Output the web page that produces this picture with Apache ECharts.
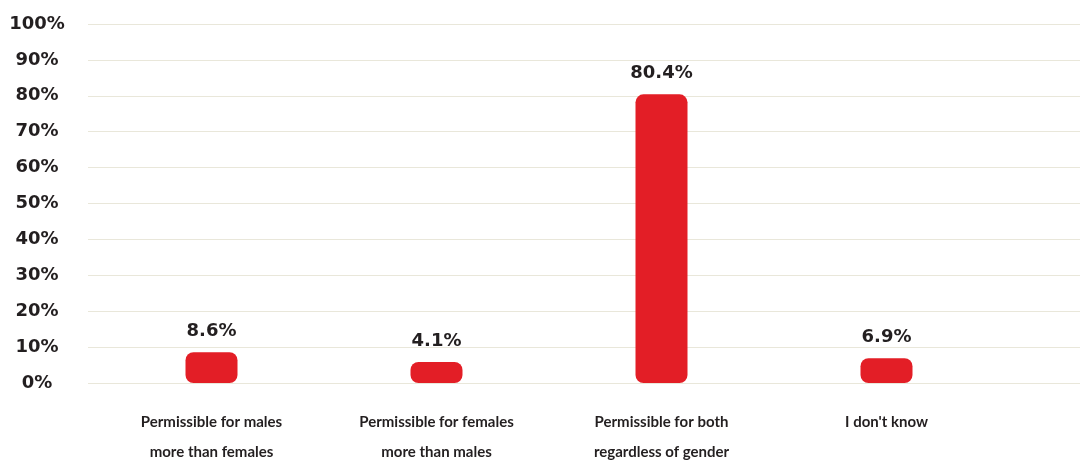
<!DOCTYPE html>
<html>
<head>
<meta charset="utf-8">
<script src="https://cdn.jsdelivr.net/npm/echarts@6/dist/echarts.min.js"></script>
<style>
  html, body { margin: 0; padding: 0; background: #fff; }
  #chart { width: 1083px; height: 461px; }
</style>
</head>
<body>
<div id="chart"></div>
<script>
var categories = [
    'Permissible for males\nmore than females',
    'Permissible for females\nmore than males',
    'Permissible for both\nregardless of gender',
    "I don't know"
];
var values = [8.6, 4.1, 80.4, 6.9];
var yMin = 0, yMax = 100, yStep = 10;

var textColor = '#231f20';
var barColor = '#e31e26';
var gridColor = '#e9e7da';

var myChart = echarts.init(document.getElementById('chart'));
var option;

option = {
    animation: false,
    grid: [
        // gridlines + y labels span the full width
        {left: 88, right: 3, top: 24, bottom: 78, outerBoundsMode: 'none'},
        // bars sit in a narrower area
        {left: 99, right: 84, top: 24, bottom: 78, outerBoundsMode: 'none'}
    ],
    xAxis: [
        {gridIndex: 0, type: 'category', data: [], show: false},
        {
            gridIndex: 1,
            type: 'category',
            data: categories,
            axisLine: {show: false},
            axisTick: {show: false},
            axisLabel: {
                color: textColor,
                fontFamily: 'Lato',
                fontWeight: 'bold',
                fontSize: 15,
                lineHeight: 30,
                margin: 24
            }
        }
    ],
    yAxis: [
        {
            gridIndex: 0,
            type: 'value',
            min: yMin,
            max: yMax,
            interval: yStep,
            axisLine: {show: false},
            axisTick: {show: false},
            splitLine: {lineStyle: {color: gridColor, width: 1}},
            axisLabel: {
                formatter: '{value}%',
                color: textColor,
                fontFamily: 'DejaVu Sans',
                fontWeight: 'bold',
                fontSize: 18,
                align: 'center',
                verticalAlign: 'middle',
                padding: [3, 0, 0, 0],
                margin: 51
            }
        },
        {gridIndex: 1, type: 'value', min: yMin, max: yMax, show: false}
    ],
    series: [
        {
            type: 'bar',
            xAxisIndex: 1,
            yAxisIndex: 1,
            data: values,
            barWidth: 52,
            barMinHeight: 21,
            itemStyle: {color: barColor, borderRadius: 8},
            label: {
                show: true,
                position: 'top',
                distance: 12,
                formatter: '{c}%',
                color: textColor,
                fontFamily: 'DejaVu Sans',
                fontWeight: 'bold',
                fontSize: 18
            }
        }
    ]
};

option && myChart.setOption(option);
</script>
</body>
</html>
